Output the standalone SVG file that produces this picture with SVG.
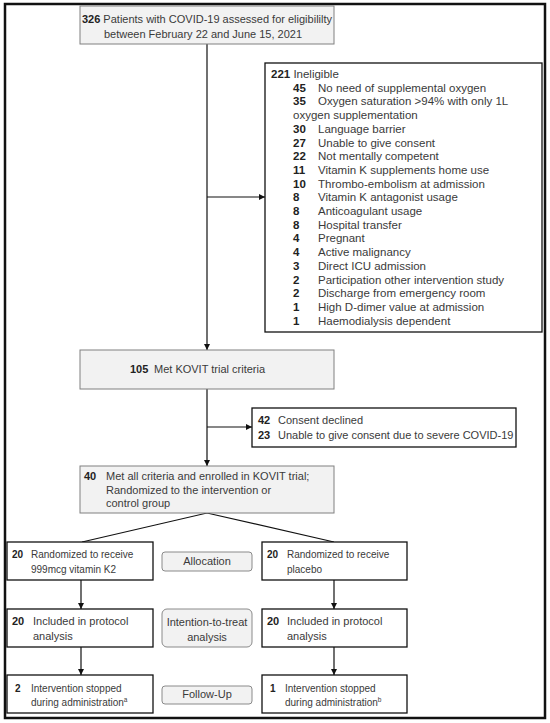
<svg xmlns="http://www.w3.org/2000/svg" width="550" height="723" viewBox="0 0 550 723">
<style>
text{font-family:"Liberation Sans",Arial,sans-serif;fill:#3a3a3a;font-size:11px}
.n{font-weight:bold;fill:#222}
.s10{font-size:10px}
.s115{font-size:11.5px}
.g{fill:#f2f2f2;stroke:#808080;stroke-width:1}
.w{fill:#fff;stroke:#111;stroke-width:1.3}
.r{fill:#f2f2f2;stroke:#8a8a8a;stroke-width:1}
.c{fill:none;stroke:#111;stroke-width:1.2}
</style>
<defs>
<marker id="ah" viewBox="0 0 10 10" refX="10" refY="5" markerWidth="6" markerHeight="6" orient="auto" markerUnits="userSpaceOnUse">
<path d="M0,0 L10,5 L0,10 z" fill="#111"/>
</marker>
</defs>
<rect x="0" y="0" width="550" height="723" fill="#fff"/>
<rect id="frame" x="5" y="4" width="540" height="714" fill="none" stroke="#111" stroke-width="2.5"/>
<g id="connectors">
<line class="c" x1="207" y1="44" x2="207" y2="350" marker-end="url(#ah)"/>
<line class="c" x1="207" y1="197" x2="265" y2="197" marker-end="url(#ah)"/>
<line class="c" x1="207" y1="389" x2="207" y2="466" marker-end="url(#ah)"/>
<line class="c" x1="207" y1="427" x2="252" y2="427" marker-end="url(#ah)"/>
<polyline class="c" points="82,542 207,513 334,542"/>
<line class="c" x1="81" y1="580" x2="81" y2="609" marker-end="url(#ah)"/>
<line class="c" x1="334" y1="580" x2="334" y2="609" marker-end="url(#ah)"/>
<line class="c" x1="81" y1="647" x2="81" y2="675" marker-end="url(#ah)"/>
<line class="c" x1="334" y1="647" x2="334" y2="675" marker-end="url(#ah)"/>
</g>
<g id="assessed">
<rect class="g" x="80" y="6" width="254" height="38"/>
<text x="207" y="22.5" text-anchor="middle"><tspan class="n">326</tspan> Patients with COVID-19 assessed for eligibililty</text>
<text x="203" y="37.5" text-anchor="middle">between February 22 and June 15, 2021</text>
</g>
<g id="ineligible">
<rect class="w" x="265" y="63" width="277" height="269" stroke-width="1.1"/>
<text x="271" y="78" class="s115"><tspan class="n">221</tspan> Ineligible</text>
<text class="n s115" x="293" y="91.7">45</text><text class="s115" x="318" y="91.7">No need of supplemental oxygen</text>
<text class="n s115" x="293" y="105.4">35</text><text class="s115" x="318" y="105.4">Oxygen saturation &gt;94% with only 1L</text>
<text class="s115" x="293" y="119.1">oxygen supplementation</text>
<text class="n s115" x="293" y="132.8">30</text><text class="s115" x="318" y="132.8">Language barrier</text>
<text class="n s115" x="293" y="146.5">27</text><text class="s115" x="318" y="146.5">Unable to give consent</text>
<text class="n s115" x="293" y="160.2">22</text><text class="s115" x="318" y="160.2">Not mentally competent</text>
<text class="n s115" x="293" y="173.9">11</text><text class="s115" x="318" y="173.9">Vitamin K supplements home use</text>
<text class="n s115" x="293" y="187.6">10</text><text class="s115" x="318" y="187.6">Thrombo-embolism at admission</text>
<text class="n s115" x="293" y="201.3">8</text><text class="s115" x="318" y="201.3">Vitamin K antagonist usage</text>
<text class="n s115" x="293" y="215">8</text><text class="s115" x="318" y="215">Anticoagulant usage</text>
<text class="n s115" x="293" y="228.7">8</text><text class="s115" x="318" y="228.7">Hospital transfer</text>
<text class="n s115" x="293" y="242.4">4</text><text class="s115" x="318" y="242.4">Pregnant</text>
<text class="n s115" x="293" y="256.1">4</text><text class="s115" x="318" y="256.1">Active malignancy</text>
<text class="n s115" x="293" y="269.8">3</text><text class="s115" x="318" y="269.8">Direct ICU admission</text>
<text class="n s115" x="293" y="283.5">2</text><text class="s115" x="318" y="283.5">Participation other intervention study</text>
<text class="n s115" x="293" y="297.2">2</text><text class="s115" x="318" y="297.2">Discharge from emergency room</text>
<text class="n s115" x="293" y="310.9">1</text><text class="s115" x="318" y="310.9">High D-dimer value at admission</text>
<text class="n s115" x="293" y="324.6">1</text><text class="s115" x="318" y="324.6">Haemodialysis dependent</text>
</g>
<g id="met">
<rect class="g" x="80" y="350" width="254" height="39"/>
<text class="n" x="130" y="373.3">105</text><text x="154" y="373.3">Met KOVIT trial criteria</text>
</g>
<g id="consent">
<rect class="w" x="252" y="408" width="264" height="39" stroke-width="1.1"/>
<text class="n" x="258" y="424">42</text><text x="278" y="424">Consent declined</text>
<text class="n" x="258" y="438.5">23</text><text x="278" y="438.5">Unable to give consent due to severe COVID-19</text>
</g>
<g id="enrolled">
<rect class="g" x="80" y="466" width="254" height="47"/>
<text class="n" x="84" y="480">40</text><text x="106" y="480">Met all criteria and enrolled in KOVIT trial;</text>
<text x="106" y="493.5">Randomized to the intervention or</text>
<text x="106" y="507">control group</text>
</g>
<g id="vitk">
<rect class="w" x="7" y="542" width="146" height="38"/>
<text class="n s10" x="12" y="558">20</text><text class="s10" x="31" y="558">Randomized to receive</text>
<text class="s10" x="31" y="572.5">999mcg vitamin K2</text>
</g>
<g id="placebo">
<rect class="w" x="262" y="542" width="145" height="38"/>
<text class="n s10" x="267" y="558">20</text><text class="s10" x="287" y="558">Randomized to receive</text>
<text class="s10" x="287" y="572.5">placebo</text>
</g>
<g id="allocation">
<rect class="r" x="162" y="552" width="90" height="19" rx="3"/>
<text x="207" y="564.5" text-anchor="middle">Allocation</text>
</g>
<g id="itt-left">
<rect class="w" x="7" y="609" width="146" height="38"/>
<text class="n" x="12" y="625">20</text><text x="33" y="625">Included in protocol</text>
<text x="33" y="640">analysis</text>
</g>
<g id="itt-right">
<rect class="w" x="262" y="609" width="145" height="38"/>
<text class="n" x="267" y="625">20</text><text x="287" y="625">Included in protocol</text>
<text x="287" y="640">analysis</text>
</g>
<g id="itt">
<rect class="r" x="162" y="609" width="90" height="38" rx="5"/>
<text x="207" y="625.5" text-anchor="middle">Intention-to-treat</text>
<text x="207" y="640.5" text-anchor="middle">analysis</text>
</g>
<g id="fu-left">
<rect class="w" x="7" y="675" width="146" height="38"/>
<text class="n s10" x="15" y="691.5">2</text><text class="s10" x="31" y="691.5">Intervention stopped</text>
<text class="s10" x="31" y="706">during administration<tspan font-size="6.5" dy="-4">a</tspan></text>
</g>
<g id="fu-right">
<rect class="w" x="262" y="675" width="145" height="38"/>
<text class="n s10" x="270" y="691.5">1</text><text class="s10" x="285" y="691.5">Intervention stopped</text>
<text class="s10" x="285" y="706">during administration<tspan font-size="6.5" dy="-4">b</tspan></text>
</g>
<g id="followup">
<rect class="r" x="162" y="686" width="90" height="18" rx="3"/>
<text x="207" y="698" text-anchor="middle">Follow-Up</text>
</g>
</svg>
